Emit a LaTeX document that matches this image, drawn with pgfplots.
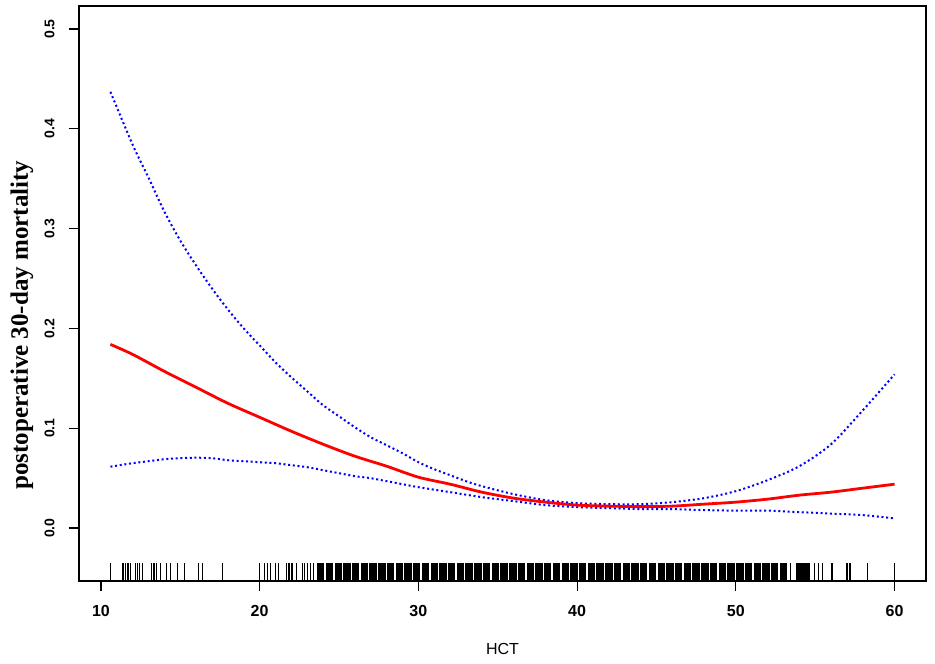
\documentclass[border=0pt]{standalone}
\usepackage{pgfplots}
\pgfplotsset{compat=1.18}
\usepackage{fontspec}
\setmainfont{Liberation Sans}
\newfontfamily\labfont{Liberation Serif}
\definecolor{rblue}{RGB}{0,0,255}
\definecolor{rred}{RGB}{255,0,0}
\begin{document}
\begin{tikzpicture}
\begin{axis}[
  scale only axis, width=847pt, height=575pt,
  xmin=8.62, xmax=61.98, ymin=-0.053, ymax=0.523,
  axis line style={line width=1.2pt, black},
  xtick={10,20,30,40,50,60}, xticklabels={10,20,30,40,50,60},
  ytick={0,0.1,0.2,0.3,0.4,0.5}, yticklabels={0.0,0.1,0.2,0.3,0.4,0.5},
  tick align=outside, major tick length=10pt,
  xtick pos=bottom, ytick pos=left,
  tick style={line width=1.2pt, black},
  xticklabel shift=11pt, yticklabel shift=11pt,
  xticklabel style={font=\fontsize{16}{16}\selectfont\bfseries},
  yticklabel style={font=\fontsize{14}{14}\selectfont\bfseries, rotate=90, anchor=south},
  xlabel={HCT},
  xlabel style={font=\fontsize{16}{16}\selectfont, at={(axis description cs:0.5,-0.1183)}, anchor=center},
  ylabel={postoperative 30-day mortality},
  ylabel style={font=\fontsize{25}{25}\selectfont\labfont\bfseries, at={(axis description cs:-0.0673,0.445)}, anchor=center},
]
\coordinate (bl) at (rel axis cs:0,0);
\coordinate (tr) at (rel axis cs:1,1);
% upper confidence limit
\addplot[rblue, line width=2pt, dash pattern=on 2pt off 2.7pt, smooth] coordinates {
(10.6,0.437) (12,0.384) (13,0.351) (14,0.317) (15,0.288) (16,0.263) (17,0.240)
(18,0.219) (19,0.200) (20,0.183) (21,0.166) (22,0.151) (23,0.137) (24,0.123)
(25,0.112) (26,0.101) (27,0.091) (28,0.083) (29,0.075) (30,0.066) (31,0.059)
(32,0.053) (33,0.047) (34,0.042) (36,0.034) (38,0.028) (40,0.025) (42,0.024)
(44,0.024) (46,0.026) (48,0.030) (50,0.037) (52,0.048) (54,0.062) (56,0.084)
(58,0.118) (60,0.154)};
% lower confidence limit
\addplot[rblue, line width=2pt, dash pattern=on 2pt off 2.7pt, smooth] coordinates {
(10.6,0.0615) (12,0.065) (13,0.067) (14,0.069) (15,0.070) (16,0.0705) (17,0.070)
(18,0.068) (19,0.067) (20,0.066) (21,0.065) (22,0.063) (23,0.061) (24,0.058)
(25,0.055) (26,0.052) (27,0.050) (28,0.047) (29,0.044) (30,0.041) (32,0.036)
(34,0.031) (36,0.027) (38,0.023) (40,0.021) (42,0.020) (44,0.019) (46,0.019)
(48,0.018) (50,0.0175) (52,0.0175) (54,0.016) (56,0.0145) (58,0.013) (60,0.0097)};
% estimate
\addplot[rred, line width=2.8pt, smooth] coordinates {
(10.6,0.184) (12,0.174) (14,0.157) (16,0.141) (18,0.125) (20,0.111) (22,0.097)
(24,0.084) (26,0.072) (28,0.062) (30,0.051) (32,0.044) (34,0.036) (36,0.030)
(38,0.026) (40,0.023) (42,0.022) (44,0.0215) (46,0.022) (48,0.024) (50,0.026)
(52,0.029) (54,0.033) (56,0.036) (58,0.040) (60,0.044)};
% rug: isolated observations
\addplot[only marks, mark=|, mark size=9pt, mark options={line width=1pt, black}] coordinates {
(10.6,-0.044) (11.35,-0.044) (11.45,-0.044) (11.55,-0.044) (11.65,-0.044) (11.75,-0.044)
(11.85,-0.044) (12.2,-0.044) (12.3,-0.044) (12.45,-0.044) (12.6,-0.044) (13.2,-0.044)
(13.3,-0.044) (13.4,-0.044) (13.5,-0.044) (13.75,-0.044) (14.15,-0.044) (14.4,-0.044)
(14.85,-0.044) (15.25,-0.044) (16.15,-0.044) (16.4,-0.044) (17.65,-0.044) (20.0,-0.044)
(20.3,-0.044) (20.5,-0.044) (20.7,-0.044) (21.0,-0.044) (21.2,-0.044) (21.7,-0.044)
(21.8,-0.044) (21.9,-0.044) (22.0,-0.044) (22.1,-0.044) (22.3,-0.044) (22.7,-0.044)
(22.85,-0.044) (23.0,-0.044) (23.2,-0.044) (23.4,-0.044) (53.45,-0.044) (54.97,-0.044)
(55.18,-0.044) (55.49,-0.044) (56.0,-0.044) (56.1,-0.044) (56.95,-0.044) (57.05,-0.044)
(57.15,-0.044) (57.25,-0.044) (58.3,-0.044) (60.0,-0.044)};
% rug: dense observations
\addplot[only marks, mark=|, mark size=9pt, mark options={line width=7.4pt, black}] coordinates {
(23.85,-0.044) (24.40,-0.044) (24.95,-0.044) (25.50,-0.044) (26.05,-0.044) (26.60,-0.044)
(27.15,-0.044) (27.70,-0.044) (28.25,-0.044) (28.80,-0.044) (29.35,-0.044) (29.90,-0.044)
(30.45,-0.044) (31.00,-0.044) (31.55,-0.044) (32.10,-0.044) (32.65,-0.044) (33.20,-0.044)
(33.75,-0.044) (34.30,-0.044) (34.85,-0.044) (35.40,-0.044) (35.95,-0.044) (36.50,-0.044)
(37.05,-0.044) (37.60,-0.044) (38.15,-0.044) (38.70,-0.044) (39.25,-0.044) (39.80,-0.044)
(40.35,-0.044) (40.90,-0.044) (41.45,-0.044) (42.00,-0.044) (42.55,-0.044) (43.10,-0.044)
(43.65,-0.044) (44.20,-0.044) (44.75,-0.044) (45.30,-0.044) (45.85,-0.044) (46.40,-0.044)
(46.95,-0.044) (47.50,-0.044) (48.05,-0.044) (48.60,-0.044) (49.15,-0.044) (49.70,-0.044)
(50.25,-0.044) (50.80,-0.044) (51.35,-0.044) (51.90,-0.044) (52.45,-0.044) (53.00,-0.044)
(54.00,-0.044) (54.45,-0.044)};
\end{axis}
\pgfresetboundingbox
\path[use as bounding box] ([shift={(-79pt,-82pt)}]bl) rectangle ([shift={(9pt,6pt)}]tr);
\end{tikzpicture}
\end{document}
